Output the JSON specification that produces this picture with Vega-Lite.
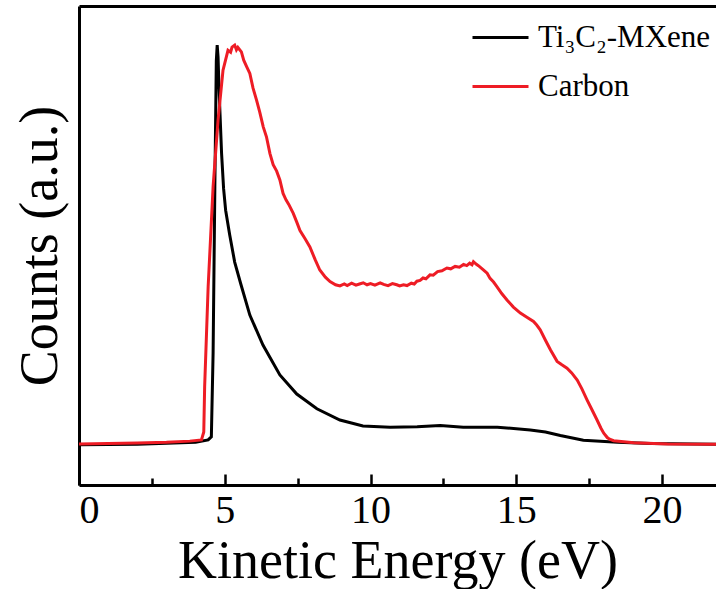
{
  "$schema": "https://vega.github.io/schema/vega-lite/v6.json",
  "width": 637,
  "height": 479,
  "autosize": "none",
  "padding": {"left": 79, "top": 6, "right": 0, "bottom": 104},
  "background": "white",
  "config": {"view": {"stroke": null}, "font": "Liberation Serif"},
  "datasets": {
    "curves": [
      {"sample": "Ti₃C₂-MXene", "energy": 0, "counts": -0.002},
      {"sample": "Ti₃C₂-MXene", "energy": 2, "counts": -0.001},
      {"sample": "Ti₃C₂-MXene", "energy": 4, "counts": 0.004},
      {"sample": "Ti₃C₂-MXene", "energy": 4.43, "counts": 0.01},
      {"sample": "Ti₃C₂-MXene", "energy": 4.54, "counts": 0.018},
      {"sample": "Ti₃C₂-MXene", "energy": 4.6, "counts": 0.228},
      {"sample": "Ti₃C₂-MXene", "energy": 4.66, "counts": 0.645},
      {"sample": "Ti₃C₂-MXene", "energy": 4.71, "counts": 0.96},
      {"sample": "Ti₃C₂-MXene", "energy": 4.74, "counts": 1.0},
      {"sample": "Ti₃C₂-MXene", "energy": 4.77, "counts": 0.97},
      {"sample": "Ti₃C₂-MXene", "energy": 4.8, "counts": 0.896},
      {"sample": "Ti₃C₂-MXene", "energy": 4.89, "counts": 0.729},
      {"sample": "Ti₃C₂-MXene", "energy": 4.96, "counts": 0.64},
      {"sample": "Ti₃C₂-MXene", "energy": 5.03, "counts": 0.586},
      {"sample": "Ti₃C₂-MXene", "energy": 5.17, "counts": 0.524},
      {"sample": "Ti₃C₂-MXene", "energy": 5.34, "counts": 0.456},
      {"sample": "Ti₃C₂-MXene", "energy": 5.55, "counts": 0.401},
      {"sample": "Ti₃C₂-MXene", "energy": 5.86, "counts": 0.323},
      {"sample": "Ti₃C₂-MXene", "energy": 6.31, "counts": 0.248},
      {"sample": "Ti₃C₂-MXene", "energy": 6.89, "counts": 0.173},
      {"sample": "Ti₃C₂-MXene", "energy": 7.47, "counts": 0.125},
      {"sample": "Ti₃C₂-MXene", "energy": 8.16, "counts": 0.088},
      {"sample": "Ti₃C₂-MXene", "energy": 8.95, "counts": 0.06},
      {"sample": "Ti₃C₂-MXene", "energy": 9.74, "counts": 0.045},
      {"sample": "Ti₃C₂-MXene", "energy": 10.67, "counts": 0.042},
      {"sample": "Ti₃C₂-MXene", "energy": 11.6, "counts": 0.043},
      {"sample": "Ti₃C₂-MXene", "energy": 12.39, "counts": 0.046},
      {"sample": "Ti₃C₂-MXene", "energy": 13.18, "counts": 0.042},
      {"sample": "Ti₃C₂-MXene", "energy": 14.35, "counts": 0.042},
      {"sample": "Ti₃C₂-MXene", "energy": 15.48, "counts": 0.035},
      {"sample": "Ti₃C₂-MXene", "energy": 16.0, "counts": 0.03},
      {"sample": "Ti₃C₂-MXene", "energy": 16.51, "counts": 0.021},
      {"sample": "Ti₃C₂-MXene", "energy": 17.3, "counts": 0.009},
      {"sample": "Ti₃C₂-MXene", "energy": 18.47, "counts": 0.004},
      {"sample": "Ti₃C₂-MXene", "energy": 19.6, "counts": 0.001},
      {"sample": "Ti₃C₂-MXene", "energy": 21.9, "counts": -0.001},
      {"sample": "Carbon", "energy": 0, "counts": 0.0},
      {"sample": "Carbon", "energy": 1, "counts": 0.001},
      {"sample": "Carbon", "energy": 2, "counts": 0.002},
      {"sample": "Carbon", "energy": 3, "counts": 0.004},
      {"sample": "Carbon", "energy": 3.8, "counts": 0.007},
      {"sample": "Carbon", "energy": 4.2, "counts": 0.01},
      {"sample": "Carbon", "energy": 4.28, "counts": 0.03},
      {"sample": "Carbon", "energy": 4.31, "counts": 0.144},
      {"sample": "Carbon", "energy": 4.43, "counts": 0.394},
      {"sample": "Carbon", "energy": 4.6, "counts": 0.645},
      {"sample": "Carbon", "energy": 4.77, "counts": 0.812},
      {"sample": "Carbon", "energy": 4.94, "counts": 0.937},
      {"sample": "Carbon", "energy": 5.11, "counts": 0.987},
      {"sample": "Carbon", "energy": 5.2, "counts": 0.982},
      {"sample": "Carbon", "energy": 5.25, "counts": 0.995},
      {"sample": "Carbon", "energy": 5.34, "counts": 1.0},
      {"sample": "Carbon", "energy": 5.4, "counts": 0.988},
      {"sample": "Carbon", "energy": 5.45, "counts": 0.994},
      {"sample": "Carbon", "energy": 5.57, "counts": 0.983},
      {"sample": "Carbon", "energy": 5.65, "counts": 0.962},
      {"sample": "Carbon", "energy": 5.75, "counts": 0.946},
      {"sample": "Carbon", "energy": 5.86, "counts": 0.929},
      {"sample": "Carbon", "energy": 5.97, "counts": 0.892},
      {"sample": "Carbon", "energy": 6.09, "counts": 0.862},
      {"sample": "Carbon", "energy": 6.2, "counts": 0.832},
      {"sample": "Carbon", "energy": 6.32, "counts": 0.795},
      {"sample": "Carbon", "energy": 6.43, "counts": 0.77},
      {"sample": "Carbon", "energy": 6.55, "counts": 0.728},
      {"sample": "Carbon", "energy": 6.66, "counts": 0.7},
      {"sample": "Carbon", "energy": 6.78, "counts": 0.684},
      {"sample": "Carbon", "energy": 6.89, "counts": 0.662},
      {"sample": "Carbon", "energy": 7.0, "counts": 0.628},
      {"sample": "Carbon", "energy": 7.1, "counts": 0.612},
      {"sample": "Carbon", "energy": 7.2, "counts": 0.6},
      {"sample": "Carbon", "energy": 7.35, "counts": 0.578},
      {"sample": "Carbon", "energy": 7.47, "counts": 0.556},
      {"sample": "Carbon", "energy": 7.58, "counts": 0.535},
      {"sample": "Carbon", "energy": 7.75, "counts": 0.515},
      {"sample": "Carbon", "energy": 7.92, "counts": 0.494},
      {"sample": "Carbon", "energy": 8.1, "counts": 0.462},
      {"sample": "Carbon", "energy": 8.26, "counts": 0.436},
      {"sample": "Carbon", "energy": 8.45, "counts": 0.418},
      {"sample": "Carbon", "energy": 8.61, "counts": 0.407},
      {"sample": "Carbon", "energy": 8.8, "counts": 0.399},
      {"sample": "Carbon", "energy": 8.95, "counts": 0.396},
      {"sample": "Carbon", "energy": 9.1, "counts": 0.401},
      {"sample": "Carbon", "energy": 9.2, "counts": 0.397},
      {"sample": "Carbon", "energy": 9.35, "counts": 0.403},
      {"sample": "Carbon", "energy": 9.5, "counts": 0.398},
      {"sample": "Carbon", "energy": 9.62, "counts": 0.401},
      {"sample": "Carbon", "energy": 9.75, "counts": 0.404},
      {"sample": "Carbon", "energy": 9.88, "counts": 0.399},
      {"sample": "Carbon", "energy": 10.0, "counts": 0.402},
      {"sample": "Carbon", "energy": 10.15, "counts": 0.398},
      {"sample": "Carbon", "energy": 10.33, "counts": 0.404},
      {"sample": "Carbon", "energy": 10.45, "counts": 0.4},
      {"sample": "Carbon", "energy": 10.6, "counts": 0.397},
      {"sample": "Carbon", "energy": 10.75, "counts": 0.402},
      {"sample": "Carbon", "energy": 10.9, "counts": 0.399},
      {"sample": "Carbon", "energy": 11.0, "counts": 0.396},
      {"sample": "Carbon", "energy": 11.13, "counts": 0.399},
      {"sample": "Carbon", "energy": 11.25, "counts": 0.397},
      {"sample": "Carbon", "energy": 11.4, "counts": 0.403},
      {"sample": "Carbon", "energy": 11.5, "counts": 0.401},
      {"sample": "Carbon", "energy": 11.59, "counts": 0.408},
      {"sample": "Carbon", "energy": 11.7, "counts": 0.41},
      {"sample": "Carbon", "energy": 11.8, "counts": 0.416},
      {"sample": "Carbon", "energy": 11.9, "counts": 0.414},
      {"sample": "Carbon", "energy": 12.04, "counts": 0.424},
      {"sample": "Carbon", "energy": 12.15, "counts": 0.423},
      {"sample": "Carbon", "energy": 12.3, "counts": 0.432},
      {"sample": "Carbon", "energy": 12.45, "counts": 0.434},
      {"sample": "Carbon", "energy": 12.62, "counts": 0.441},
      {"sample": "Carbon", "energy": 12.75, "counts": 0.439},
      {"sample": "Carbon", "energy": 12.9, "counts": 0.445},
      {"sample": "Carbon", "energy": 13.05, "counts": 0.443},
      {"sample": "Carbon", "energy": 13.19, "counts": 0.45},
      {"sample": "Carbon", "energy": 13.3, "counts": 0.447},
      {"sample": "Carbon", "energy": 13.4, "counts": 0.453},
      {"sample": "Carbon", "energy": 13.48, "counts": 0.449},
      {"sample": "Carbon", "energy": 13.53, "counts": 0.457},
      {"sample": "Carbon", "energy": 13.62, "counts": 0.451},
      {"sample": "Carbon", "energy": 13.7, "counts": 0.447},
      {"sample": "Carbon", "energy": 13.88, "counts": 0.436},
      {"sample": "Carbon", "energy": 14.0, "counts": 0.428},
      {"sample": "Carbon", "energy": 14.1, "counts": 0.415},
      {"sample": "Carbon", "energy": 14.22, "counts": 0.406},
      {"sample": "Carbon", "energy": 14.34, "counts": 0.394},
      {"sample": "Carbon", "energy": 14.5, "counts": 0.377},
      {"sample": "Carbon", "energy": 14.68, "counts": 0.361},
      {"sample": "Carbon", "energy": 14.9, "counts": 0.343},
      {"sample": "Carbon", "energy": 15.14, "counts": 0.328},
      {"sample": "Carbon", "energy": 15.35, "counts": 0.318},
      {"sample": "Carbon", "energy": 15.59, "counts": 0.307},
      {"sample": "Carbon", "energy": 15.7, "counts": 0.298},
      {"sample": "Carbon", "energy": 15.82, "counts": 0.286},
      {"sample": "Carbon", "energy": 16.0, "counts": 0.26},
      {"sample": "Carbon", "energy": 16.17, "counts": 0.236},
      {"sample": "Carbon", "energy": 16.4, "counts": 0.207},
      {"sample": "Carbon", "energy": 16.55, "counts": 0.199},
      {"sample": "Carbon", "energy": 16.74, "counts": 0.19},
      {"sample": "Carbon", "energy": 16.9, "counts": 0.178},
      {"sample": "Carbon", "energy": 17.09, "counts": 0.16},
      {"sample": "Carbon", "energy": 17.25, "counts": 0.138},
      {"sample": "Carbon", "energy": 17.43, "counts": 0.11},
      {"sample": "Carbon", "energy": 17.6, "counts": 0.085},
      {"sample": "Carbon", "energy": 17.77, "counts": 0.06},
      {"sample": "Carbon", "energy": 17.9, "counts": 0.04},
      {"sample": "Carbon", "energy": 18.0, "counts": 0.027},
      {"sample": "Carbon", "energy": 18.12, "counts": 0.016},
      {"sample": "Carbon", "energy": 18.2, "counts": 0.012},
      {"sample": "Carbon", "energy": 18.34, "counts": 0.008},
      {"sample": "Carbon", "energy": 19.03, "counts": 0.003},
      {"sample": "Carbon", "energy": 20.18, "counts": 0.0},
      {"sample": "Carbon", "energy": 21.9, "counts": -0.001}
    ]
  },
  "layer": [
    {
      "data": {"name": "curves"},
      "mark": {"type": "line", "strokeWidth": 3, "clip": true},
      "encoding": {
        "x": {
          "field": "energy", "type": "quantitative",
          "scale": {"domain": [0, 21.85], "nice": false, "zero": false},
          "axis": {
            "orient": "bottom",
            "values": [0, 2.5, 5, 7.5, 10, 12.5, 15, 17.5, 20],
            "labelExpr": "datum.value % 5 === 0 ? datum.label : ''",
            "grid": false,
            "domainColor": "black", "domainWidth": 3,
            "tickColor": "black", "tickWidth": 2.5,
            "tickSize": {"condition": {"test": "datum.value % 5 === 0", "value": -11}, "value": -7},
            "labelFont": "Liberation Serif", "labelFontSize": 40, "labelColor": "black", "labelPadding": 16,
            "labelOverlap": false,
            "title": "Kinetic Energy (eV)",
            "titleFont": "Liberation Serif", "titleFontSize": 54, "titleFontWeight": "normal", "titleColor": "black", "titlePadding": 0
          }
        },
        "y": {
          "field": "counts", "type": "quantitative",
          "scale": {"domain": [-0.103, 1.098], "nice": false, "zero": false},
          "axis": {
            "orient": "left", "ticks": false, "labels": false, "grid": false,
            "domainColor": "black", "domainWidth": 3,
            "title": "Counts (a.u.)",
            "titleFont": "Liberation Serif", "titleFontSize": 54, "titleFontWeight": "normal", "titleColor": "black", "titlePadding": 12
          }
        },
        "color": {
          "field": "sample", "type": "nominal", "sort": null,
          "scale": {"domain": ["Ti₃C₂-MXene", "Carbon"], "range": ["#000000", "#ee1c25"]},
          "legend": {
            "orient": "none", "legendX": 392, "legendY": 2,
            "title": null, "symbolType": "stroke", "symbolSize": 3136, "symbolStrokeWidth": 3,
            "labelFont": "Liberation Serif", "labelFontSize": 31, "labelColor": "black", "labelLimit": 400,
            "labelOffset": 8, "rowPadding": 4, "padding": 0
          }
        }
      }
    },
    {
      "data": {"name": "curves"},
      "mark": {"type": "line", "opacity": 0},
      "encoding": {
        "x": {
          "field": "energy", "type": "quantitative",
          "axis": {"orient": "top", "labels": false, "ticks": false, "grid": false, "title": null, "domainColor": "black", "domainWidth": 3}
        },
        "y": {
          "field": "counts", "type": "quantitative",
          "axis": {
            "orient": "left", "ticks": false, "labels": false, "grid": false,
            "domainColor": "black", "domainWidth": 3,
            "title": "Counts (a.u.)",
            "titleFont": "Liberation Serif", "titleFontSize": 54, "titleFontWeight": "normal", "titleColor": "black", "titlePadding": 12
          }
        }
      }
    }
  ],
  "resolve": {"axis": {"x": "independent"}}
}
